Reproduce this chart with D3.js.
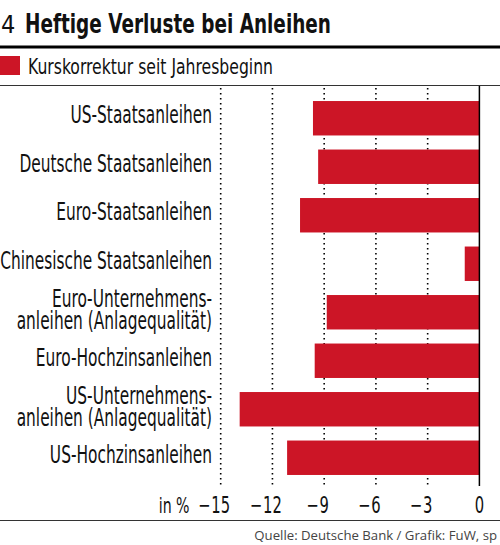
<!DOCTYPE html>
<html>
<head>
<meta charset="utf-8">
<script src="https://cdn.jsdelivr.net/npm/d3@7"></script>
<style>
  body { margin: 0; background: #fff; }
  text { font-family: "Liberation Sans Narrow", "DejaVu Sans Condensed", "Liberation Sans", sans-serif; fill: #111; }
</style>
</head>
<body>
<div id="chart"></div>
<script>
// chart data
var categories = [
  ["US-Staatsanleihen"],
  ["Deutsche Staatsanleihen"],
  ["Euro-Staatsanleihen"],
  ["Chinesische Staatsanleihen"],
  ["Euro-Unternehmens-", "anleihen (Anlagequalität)"],
  ["Euro-Hochzinsanleihen"],
  ["US-Unternehmens-", "anleihen (Anlagequalität)"],
  ["US-Hochzinsanleihen"]
];
var values = [-9.65, -9.35, -10.4, -0.85, -8.85, -9.55, -13.9, -11.15];
var tickValues = [-15, -12, -9, -6, -3, 0];
var seriesName = "Kurskorrektur seit Jahresbeginn";
var titleNumber = "4";
var titleText = "Heftige Verluste bei Anleihen";
var unitLabel = "in %";
var sourceText = "Quelle: Deutsche Bank / Grafik: FuW, sp";

var width = 500, height = 545;
var red = "#cc1526";

var svg = d3.select("#chart").append("svg")
  .attr("width", width)
  .attr("height", height);

// squeeze a text node horizontally so it fits a given width
function squeeze(node, w) {
  var len = node.getComputedTextLength();
  return len > 0 ? w / len : 1;
}

// header
svg.append("text")
  .attr("x", 1).attr("y", 33)
  .style("font-size", "25px")
  .text(titleNumber);

svg.append("text")
  .attr("x", 25).attr("y", 33)
  .style("font-size", "26px")
  .style("font-weight", "bold")
  .attr("textLength", 306)
  .attr("lengthAdjust", "spacingAndGlyphs")
  .text(titleText);

svg.append("line")
  .attr("x1", 0).attr("x2", width)
  .attr("y1", 47).attr("y2", 47)
  .attr("stroke", "#000").attr("stroke-width", 3);

// legend
svg.append("rect")
  .attr("x", 0).attr("y", 56)
  .attr("width", 20).attr("height", 19)
  .attr("fill", red);

svg.append("text")
  .attr("x", 28).attr("y", 74)
  .style("font-size", "22px")
  .attr("textLength", 245)
  .attr("lengthAdjust", "spacingAndGlyphs")
  .text(seriesName);

svg.append("line")
  .attr("x1", 0).attr("x2", width)
  .attr("y1", 85.5).attr("y2", 85.5)
  .attr("stroke", "#333").attr("stroke-width", 1);

// scales
var x = d3.scaleLinear().domain([-15, 0]).range([220.7, 479.4]);
var y = d3.scaleBand()
  .domain(d3.range(categories.length))
  .range([94, 482])
  .paddingInner(0.29)
  .paddingOuter(0.145);

// dotted grid
svg.append("g").attr("id", "grid")
  .selectAll("line")
  .data(tickValues.filter(function(d) { return d !== 0; }))
  .enter()
  .append("line")
  .attr("x1", function(d) { return x(d); })
  .attr("x2", function(d) { return x(d); })
  .attr("y1", 88).attr("y2", 486)
  .attr("stroke", "#000")
  .attr("stroke-width", 1.6)
  .attr("stroke-dasharray", "1.6,3.4");

// bars
svg.append("g").attr("id", "bars")
  .selectAll("rect")
  .data(values)
  .enter()
  .append("rect")
  .attr("x", function(d) { return x(d); })
  .attr("y", function(d, i) { return y(i); })
  .attr("width", function(d) { return x(0) - x(d); })
  .attr("height", y.bandwidth())
  .attr("fill", red);

// zero line
svg.append("line")
  .attr("x1", x(0)).attr("x2", x(0))
  .attr("y1", 86).attr("y2", 486)
  .attr("stroke", "#000").attr("stroke-width", 1.5);

// category labels, right aligned at x=212
var labels = svg.append("g").attr("id", "labels");
labels.selectAll("text")
  .data(categories)
  .enter()
  .append("text")
  .attr("text-anchor", "end")
  .style("font-size", "24px")
  .each(function(d, i) {
    var t = d3.select(this);
    var c = y(i) + y.bandwidth() / 2;
    var first = d.length === 1 ? c + 5 : c - 5.5;
    d.forEach(function(line, j) {
      t.append("tspan")
        .attr("x", 0)
        .attr("y", first + j * 21.8)
        .text(line);
    });
  });

// one horizontal squeeze for all labels, taken from the widest line
var sx = squeeze(labels.selectAll("text").filter(function(d, i) { return i === 3; }).node(), 212);
labels.attr("transform", "translate(212,0) scale(" + sx + ",1)");

// axis labels: digits centred on the gridline, minus hanging left
var axis = svg.append("g").attr("id", "axis");
tickValues.forEach(function(v) {
  var g = axis.append("g")
    .attr("transform", "translate(" + x(v) + ",513) scale(" + sx + ",1)");
  var digits = g.append("text")
    .attr("text-anchor", "middle")
    .style("font-size", "23px")
    .text(Math.abs(v));
  if (v < 0) {
    var half = digits.node().getComputedTextLength() / 2;
    g.append("text")
      .attr("x", -half - 1)
      .attr("text-anchor", "end")
      .style("font-size", "23px")
      .text("\u2212");
  }
});

axis.append("text")
  .attr("transform", "translate(189.5,513) scale(" + sx + ",1)")
  .attr("text-anchor", "end")
  .style("font-size", "22px")
  .text(unitLabel);

// footer
svg.append("line")
  .attr("x1", 0).attr("x2", width)
  .attr("y1", 520.5).attr("y2", 520.5)
  .attr("stroke", "#333").attr("stroke-width", 1);

svg.append("text")
  .attr("x", 497).attr("y", 540)
  .attr("text-anchor", "end")
  .style("font-family", "'Open Sans', 'Liberation Sans', sans-serif")
  .style("font-size", "13.2px")
  .style("fill", "#444")
  .text(sourceText);
</script>
</body>
</html>
